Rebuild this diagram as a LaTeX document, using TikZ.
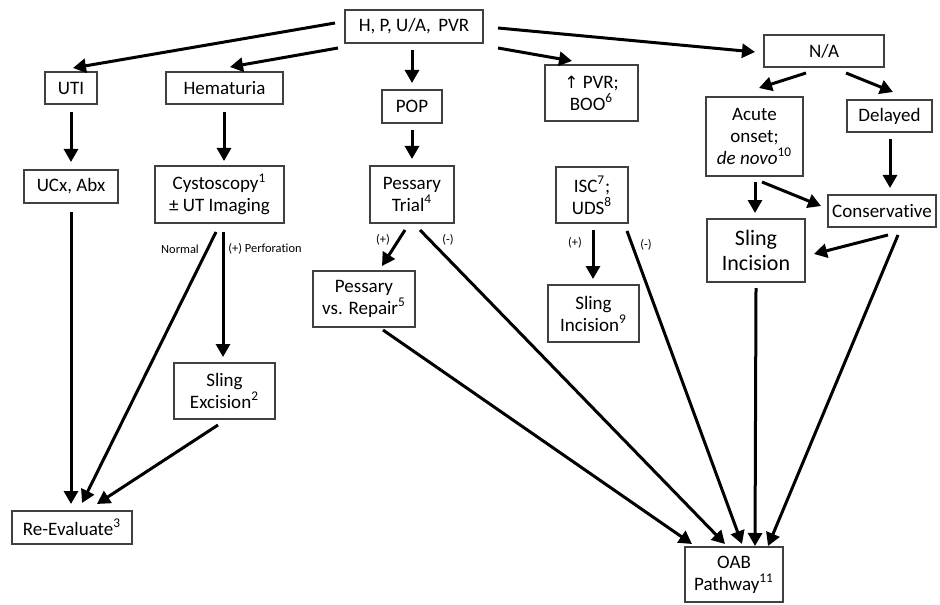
\documentclass[tikz,border=0pt]{standalone}
\usepackage{fontspec}
\setmainfont{Carlito}[Ligatures=NoCommon]
\newfontfamily\symfont{DejaVu Sans}
\usetikzlibrary{arrows.meta,calc}
\begin{document}
\begin{tikzpicture}[x=0.5pt,y=-0.5pt,
  box/.style={draw=black!75,line width=0.7pt,inner sep=0pt,align=center,font=\fontsize{9.5}{11}\selectfont},
  bigbox/.style={box,font=\fontsize{11}{12.5}\selectfont},
  arr/.style={line width=1.5pt,-{Triangle[length=6.5pt,width=7pt]}},
  lbl/.style={inner sep=0pt,font=\fontsize{6.2}{7}\selectfont}]
\useasboundingbox (0,0) rectangle (940,604);
% nodes
\node[box,minimum width=69pt,minimum height=16.5pt] (top) at (414,26.5) {H, P, U/A,\, PVR};
\node[box,minimum width=26pt,minimum height=16pt] (uti) at (71,88) {UTI};
\node[box,minimum width=58.5pt,minimum height=16pt] (hem) at (224.5,88) {Hematuria};
\node[box,minimum width=30pt,minimum height=16.5pt] (pop) at (412,106.5) {POP};
\node[box,minimum width=46.5pt,minimum height=28pt] (pvr) at (591.5,93) {{\symfont\fontsize{8.5}{10}\selectfont ↑} PVR;\\BOO\textsuperscript{6}};
\node[box,minimum width=60pt,minimum height=16pt] (na) at (824,51) {N/A};
\node[box,minimum width=48.5pt,minimum height=39.5pt] (acute) at (754.5,136.5) {Acute\\onset;\\\textit{de novo}\textsuperscript{10}};
\node[box,minimum width=42.5pt,minimum height=16pt] (delayed) at (889.5,116) {Delayed};
\node[box,minimum width=47pt,minimum height=16.5pt] (ucx) at (71,186.5) {UCx, Abx};
\node[box,minimum width=64.5pt,minimum height=28.5pt] (cysto) at (219.5,194.5) {Cystoscopy\textsuperscript{1}\\± UT Imaging};
\node[box,minimum width=42pt,minimum height=28.5pt] (trial) at (412,194.5) {Pessary\\Trial\textsuperscript{4}};
\node[box,minimum width=36pt,minimum height=28pt] (isc) at (592,195) {ISC\textsuperscript{7};\\UDS\textsuperscript{8}};
\node[box,minimum width=54pt,minimum height=16pt] (cons) at (882,211) {Conservative};
\node[bigbox,minimum width=49pt,minimum height=31.5pt] (sling) at (756,250.5) {Sling\\Incision};
\node[box,minimum width=51pt,minimum height=28pt] (pvsr) at (364,299) {Pessary\\vs. Repair\textsuperscript{5}};
\node[box,minimum width=45.5pt,minimum height=28.5pt] (sling9) at (593.5,313.5) {Sling\\Incision\textsuperscript{9}};
\node[box,minimum width=50.5pt,minimum height=28pt] (exc) at (224.5,391) {Sling\\Excision\textsuperscript{2}};
\node[box,minimum width=60pt,minimum height=16.5pt] (reeval) at (72,527.5) {Re-Evaluate\textsuperscript{3}};
\node[box,minimum width=49pt,minimum height=27.5pt] (oab) at (734,574.5) {OAB\\Pathway\textsuperscript{11}};
% labels
\node[lbl] (lnormal) at (180,249) {Normal};
\node[lbl] (lperf) at (265,249) {(+) Perforation};
\node[lbl] (ltp) at (383,240) {(+)};
\node[lbl] (ltm) at (448,240) {(-)};
\node[lbl] (lip) at (575,243) {(+)};
\node[lbl] (lim) at (646,245) {(-)};
% arrows
\draw[arr] ($(top.center)+(-79,-3.5)$) -- ($(uti.center)+(2,-20)$);
\draw[arr] ($(top.center)+(-76,21.5)$) -- ($(hem.center)+(5.5,-21)$);
\draw[arr] ($(top.center)+(-2,23.5)$) -- ($(pop.center)+(0,-23.5)$);
\draw[arr] ($(top.center)+(84,21.5)$) -- ($(pvr.center)+(-19.5,-32)$);
\draw[arr] ($(top.center)+(84,1.5)$) -- ($(na.center)+(-69,1)$);
\draw[arr] ($(na.center)+(-18,22)$) -- ($(acute.center)+(4.5,-48.5)$);
\draw[arr] ($(na.center)+(22,22)$) -- ($(delayed.center)+(3.5,-24)$);
\draw[arr] ($(delayed.center)+(0.5,23)$) -- ($(cons.center)+(8,-23)$);
\draw[arr] ($(acute.center)+(0.5,45.5)$) -- ($(sling.center)+(-1,-37.5)$);
\draw[arr] ($(acute.center)+(7.5,45.5)$) -- ($(cons.center)+(-61,-5)$);
\draw[arr] ($(cons.center)+(6,24)$) -- ($(sling.center)+(58,3.5)$);
\draw[arr] ($(cons.center)+(16,24)$) -- ($(oab.center)+(34,-28.5)$);
\draw[arr] ($(sling.center)+(0,37.5)$) -- ($(oab.center)+(21,-28.5)$);
\draw[arr] ($(isc.center)+(35,36)$) -- ($(oab.center)+(8,-30.5)$);
\draw[arr] ($(isc.center)+(1,35)$) -- ($(sling9.center)+(-0.5,-34.5)$);
\draw[arr] ($(trial.center)+(8,35.5)$) -- ($(oab.center)+(-9,-30.5)$);
\draw[arr] ($(trial.center)+(-7,35.5)$) -- ($(pvsr.center)+(18,-33)$);
\draw[arr] ($(pvsr.center)+(19,31)$) -- ($(oab.center)+(-42,-30.5)$);
\draw[arr] ($(pop.center)+(0,23.5)$) -- ($(trial.center)+(0,-35.5)$);
\draw[arr] ($(hem.center)+(-0.5,24)$) -- ($(cysto.center)+(4.5,-33.5)$);
\draw[arr] ($(uti.center)+(0,24)$) -- ($(ucx.center)+(0,-24.5)$);
\draw[arr] ($(ucx.center)+(0,25.5)$) -- ($(reeval.center)+(-1,-23.5)$);
\draw[arr] ($(cysto.center)+(-3.5,37.5)$) -- ($(reeval.center)+(10,-24.5)$);
\draw[arr] ($(cysto.center)+(3.5,37.5)$) -- ($(exc.center)+(-1.5,-34)$);
\draw[arr] ($(exc.center)+(-6.5,34)$) -- ($(reeval.center)+(25,-23.5)$);
\end{tikzpicture}
\end{document}
